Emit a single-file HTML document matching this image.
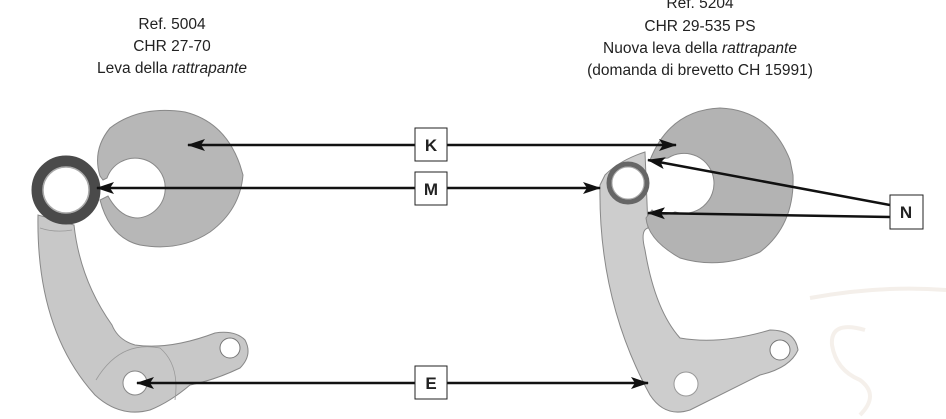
<!DOCTYPE html>
<html><head><meta charset="utf-8"><style>
html,body{margin:0;padding:0;background:#fff;}
svg{display:block}
text{font-family:"Liberation Sans",sans-serif;fill:#222;}
</style></head><body>
<svg width="946" height="419" viewBox="0 0 946 419" xmlns="http://www.w3.org/2000/svg">
<defs>
<marker id="ah" markerWidth="18" markerHeight="12" refX="17" refY="6" orient="auto" markerUnits="userSpaceOnUse">
<path d="M0,0 L18,6 L0,12 L4,6 Z" fill="#111"/></marker>
</defs>
<!-- watermark -->
<path d="M810,298 Q880,285 946,290" stroke="#f4efea" stroke-width="4" fill="none"/>
<path d="M865,330 Q830,320 832,345 Q836,370 860,380 Q880,395 860,415" stroke="#f5f0eb" stroke-width="4" fill="none"/>

<!-- titles -->
<g font-size="15.5" text-anchor="middle">
<text x="172" y="29">Ref. 5004</text>
<text x="172" y="51">CHR 27-70</text>
<text x="172" y="73">Leva della <tspan font-style="italic">rattrapante</tspan></text>
<text x="700" y="8">Ref. 5204</text>
<text x="700" y="31">CHR 29-535 PS</text>
<text x="700" y="53">Nuova leva della <tspan font-style="italic">rattrapante</tspan></text>
<text x="700" y="75">(domanda di brevetto CH 15991)</text>
</g>

<!-- LEFT part -->
<path d="M38,215 Q36,330 95,395 Q120,418 150,410 Q170,402 190,385 Q215,380 240,368 Q253,355 245,340 Q235,330 215,333 Q170,350 135,345 Q118,340 112,325 Q80,280 74,225 Z" fill="#c8c8c8" stroke="#888" stroke-width="1"/>
<path d="M96,380 Q120,340 160,348 Q180,365 175,400" fill="none" stroke="#999" stroke-width="0.8"/>
<path d="M40,228 Q55,233 72,230" fill="none" stroke="#999" stroke-width="0.8"/>
<circle cx="230" cy="348" r="10" fill="#fff" stroke="#777"/>
<circle cx="135" cy="383" r="12" fill="#fff" stroke="#888"/>
<path d="M100,176 Q92,150 110,128 Q140,105 185,112 Q225,122 240,165 L243,175 Q240,210 210,232 Q180,252 140,245 Q110,238 100,200 L108,196 Q120,218 138,218 A30,30 0 1 0 107,178 L103,180 Z" fill="#b7b7b7" stroke="#888" stroke-width="1"/>
<circle cx="66" cy="190" r="29" fill="none" stroke="#4a4a4a" stroke-width="11"/>
<circle cx="66" cy="190" r="23" fill="#fff" stroke="#aaa" stroke-width="1.5"/>

<!-- RIGHT part -->
<path d="M600,185 Q598,300 650,395 Q665,418 690,410 Q720,395 760,375 Q790,368 798,350 Q795,330 770,330 Q720,345 680,338 Q655,310 645,250 Q640,230 648,228 L645,152 Q620,160 605,175 Z" fill="#cdcdcd" stroke="#888" stroke-width="1"/>
<circle cx="780" cy="350" r="10" fill="#fff" stroke="#777"/>
<circle cx="686" cy="384" r="12" fill="#fff" stroke="#999"/>
<path d="M650,160 Q670,110 720,108 Q770,110 790,160 L793,175 Q795,225 760,252 Q720,270 680,258 Q648,240 646,218 L652,210 Q660,218 675,212 A30,30 0 1 0 668,158 Z" fill="#b3b3b3" stroke="#888" stroke-width="1"/>
<circle cx="628" cy="183" r="19" fill="none" stroke="#666" stroke-width="5"/>
<circle cx="628" cy="183" r="16" fill="#fff" stroke="#aaa"/>

<!-- arrows -->
<g stroke="#111" stroke-width="2.5" fill="none" marker-end="url(#ah)">
<line x1="415" y1="145" x2="188" y2="145"/>
<line x1="447" y1="145" x2="676" y2="145"/>
<line x1="415" y1="188" x2="97" y2="188"/>
<line x1="447" y1="188" x2="600" y2="188"/>
<line x1="415" y1="383" x2="137" y2="383"/>
<line x1="447" y1="383" x2="648" y2="383"/>
<line x1="890" y1="205" x2="648" y2="160"/>
<line x1="890" y1="217" x2="648" y2="213"/>
</g>

<!-- labels -->
<g font-size="17" font-weight="bold" text-anchor="middle">
<rect x="415" y="128" width="32" height="33" fill="#fff" stroke="#222"/>
<text x="431" y="151">K</text>
<rect x="415" y="172" width="32" height="33" fill="#fff" stroke="#222"/>
<text x="431" y="195">M</text>
<rect x="415" y="366" width="32" height="33" fill="#fff" stroke="#222"/>
<text x="431" y="389">E</text>
<rect x="890" y="195" width="33" height="34" fill="#fff" stroke="#222"/>
<text x="906" y="218">N</text>
</g>
</svg>
</body></html>
